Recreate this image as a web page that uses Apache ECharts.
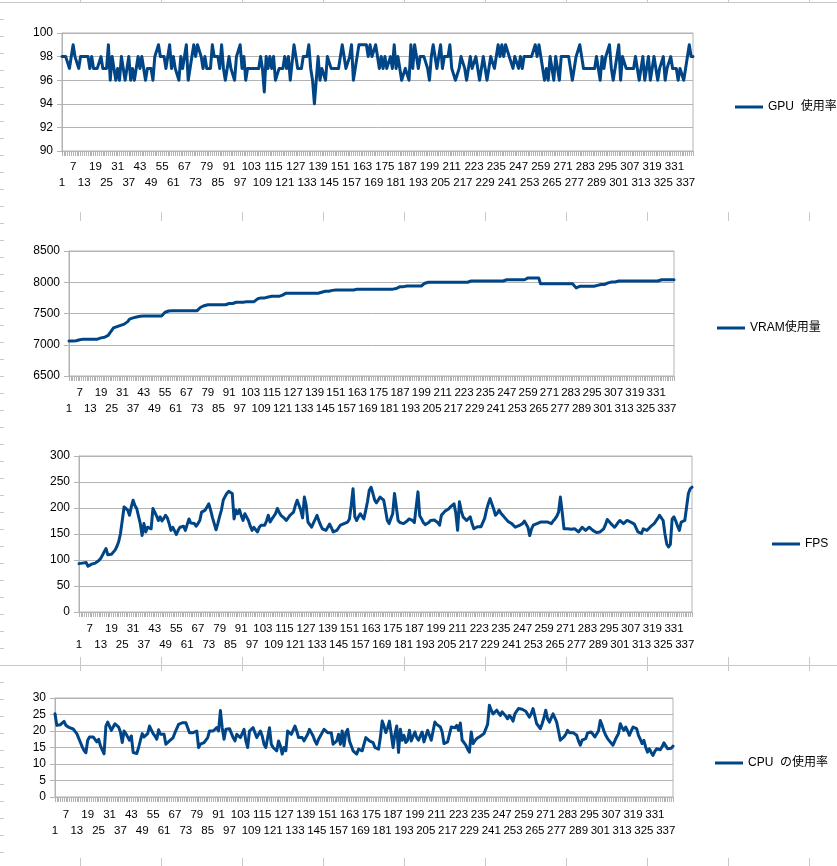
<!DOCTYPE html>
<html>
<head>
<meta charset="utf-8">
<title>GPU / VRAM / FPS / CPU</title>
<script src="https://cdn.jsdelivr.net/npm/echarts@6/dist/echarts.min.js"></script>
<style>
  html, body { margin: 0; padding: 0; background: #fff; }
  #sheet {
    position: relative; width: 837px; height: 866px; overflow: hidden;
    background-color: #fff;
    background-image:
      repeating-linear-gradient(to right, transparent 0 80px, #c8c8c8 80px 81px),
      repeating-linear-gradient(to bottom, transparent 0 2px, #c8c8c8 2px 3px, transparent 3px 17px);
  }
  .chart { position: absolute; left: 4px; width: 833px; background: #fff; }
</style>
</head>
<body>
<div id="sheet">
  <div id="gpu" class="chart" style="top: 3px; height: 209px;"></div>
  <div id="vram" class="chart" style="top: 221px; height: 209px;"></div>
  <div id="fps" class="chart" style="top: 430px; height: 227px;"></div>
  <div id="cpu" class="chart" style="top: 671px; height: 187px;"></div>
</div>
<script>
// 計測サンプル番号 1..341
const samples = [];
for (let i = 1; i <= 341; i++) samples.push(String(i));

// GPU 使用率 (%)
const gpuUsage = [
  98,98,98,98,97,98,99,98,98,97, 98,98,98,98,98,97,98,97,97,97,
  97,98,97,97,97,99,96,98,97,96, 97,96,98,98,96,97,98,96,97,96,
  96,98,97,98,98,96,97,97,97,96, 98,98,99,98,98,98,97,98,99,97,
  98,97,97,96,98,97,98,99,96,97, 98,99,98,99,99,98,97,98,97,97,
  97,99,98,98,98,97,99,97,96,97, 98,97,97,96,98,98,99,97,98,96,
  97,97,97,97,97,97,97,98,97,95, 98,97,98,97,98,96,96,97,97,97,
  98,97,98,96,96,99,98,97,97,97, 98,98,98,99,97,96,94,96,98,96,
  97,97,96,98,98,97,97,97,97,97, 97,99,98,97,97,98,99,96,97,97,
  99,99,99,99,99,98,99,98,98,99, 98,97,98,97,98,97,97,98,97,99,
  97,98,98,96,96,97,97,96,99,97, 99,98,97,98,98,98,98,97,96,98,
  99,98,97,98,99,97,98,98,98,99, 97,97,96,96,97,98,98,97,96,97,
  98,97,97,98,98,96,97,98,98,96, 97,98,98,97,98,99,98,99,98,99,
  99,98,98,97,98,98,97,98,97,98, 98,98,98,98,98,99,98,99,98,98,
  96,97,96,98,97,96,98,97,96,98, 98,98,98,98,97,96,97,98,98,99,
  98,97,97,97,97,97,97,97,98,97, 96,98,97,98,98,99,97,96,97,98,
  99,96,98,98,97,97,97,97,97,98, 97,96,97,98,96,97,98,96,97,98,
  97,96,97,97,98,96,97,97,98,97, 97,97,96,97,97,96,97,97,99,98,98
];

// VRAM 使用量 (MB)
const vramUsage = [
  7060,7060,7060,7060,7065,7070,7080,7090,7090,7090, 7090,7090,7090,7090,7090,7090,7090,7100,7110,7110,
  7120,7130,7150,7180,7230,7270,7285,7290,7300,7310, 7330,7330,7335,7370,7410,7420,7430,7440,7445,7450,
  7455,7460,7460,7460,7460,7460,7460,7460,7460,7460, 7460,7460,7460,7490,7520,7530,7540,7545,7545,7545,
  7545,7545,7545,7545,7545,7545,7545,7545,7545,7545, 7545,7545,7545,7570,7600,7615,7625,7630,7640,7640,
  7640,7640,7640,7640,7640,7640,7640,7640,7640,7640, 7660,7660,7660,7660,7680,7680,7680,7680,7680,7680,
  7690,7690,7690,7690,7690,7720,7735,7745,7750,7750, 7750,7750,7765,7775,7775,7775,7775,7775,7775,7790,
  7795,7810,7825,7825,7825,7825,7825,7825,7825,7825, 7825,7825,7825,7825,7825,7825,7825,7825,7825,7825,
  7825,7825,7840,7855,7855,7855,7855,7855,7870,7875, 7875,7875,7875,7875,7875,7875,7875,7875,7875,7875,
  7875,7885,7890,7890,7890,7890,7890,7890,7890,7890, 7890,7890,7890,7890,7890,7890,7890,7890,7890,7890,
  7890,7890,7890,7890,7900,7920,7930,7930,7930,7930, 7940,7940,7940,7940,7940,7940,7940,7940,7940,7940,
  7985,8000,8000,8000,8000,8000,8000,8000,8000,8000, 8000,8000,8000,8000,8000,8000,8000,8000,8000,8000,
  8000,8000,8000,8000,8000,8010,8020,8020,8020,8020, 8020,8020,8020,8020,8020,8020,8020,8020,8020,8020,
  8020,8020,8020,8020,8020,8020,8040,8040,8040,8040, 8040,8040,8040,8040,8040,8040,8040,8070,8070,8070,
  8070,8070,8070,8070,8070,7975,7975,7975,7975,7975, 7975,7975,7975,7975,7975,7975,7975,7975,7975,7975,
  7975,7975,7975,7975,7985,7910,7935,7935,7935,7935, 7935,7935,7935,7935,7935,7935,7935,7950,7960,7965,
  7965,7965,7965,7990,8005,8005,8005,8005,8005,8020, 8020,8020,8020,8020,8020,8020,8020,8020,8020,8020,
  8020,8020,8020,8020,8020,8020,8020,8020,8020,8020, 8020,8020,8040,8040,8040,8040,8040,8040,8040,8040,8040
];

// FPS
const fpsValues = [
  93,94,94,95,95,88,90,92,93,94, 95,99,103,109,116,122,110,109,111,113,
  119,126,135,151,176,202,205,196,186,202, 215,205,199,196,170,147,170,154,163,161,
  160,199,199,185,176,183,175,180,186,181, 170,157,163,156,149,157,163,164,165,157,
  168,179,171,170,170,165,170,176,192,194, 196,202,208,196,182,170,158,170,184,196,
  215,222,228,232,234,228,179,196,189,197, 185,176,189,186,176,165,157,163,158,154,
  163,167,166,167,175,186,173,179,184,189, 199,192,186,183,180,176,178,186,189,192,
  205,215,212,196,181,221,205,173,168,163, 171,178,186,176,167,160,158,157,163,169,
  162,154,155,157,162,167,168,170,171,173, 179,205,237,183,176,183,189,184,179,195,
  212,234,240,228,215,210,208,221,218,215, 196,176,170,180,189,228,229,176,172,170,
  170,171,175,179,176,176,172,175,231,185, 179,172,168,167,172,176,178,177,176,172,
  167,186,190,194,196,198,202,204,208,190, 157,212,195,183,180,176,179,183,170,160,
  162,164,163,164,163,180,196,208,218,215, 198,186,190,196,190,186,182,179,174,171,
  170,168,163,165,166,167,170,175,178,163, 147,160,167,166,170,172,173,176,173,175,
  173,171,170,175,179,184,192,221,192,160, 161,160,160,159,160,160,157,154,158,163,
  160,157,160,163,160,157,155,153,151,154, 157,160,168,178,174,170,167,163,167,172,
  176,173,170,173,176,174,173,171,169,167, 154,152,151,160,158,157,160,164,167,170,
  173,180,186,183,176,150,131,125,130,179, 183,175,165,157,173,175,176,179,228,237,240
];

// CPU の使用率 (%)
const cpuUsage = [
  25.2,21.7,21.7,21.9,22.2,22.9,21.7,21.2,21.0,21.0, 20.6,20.2,19.2,19.0,16.5,15.2,14.1,13.4,17.2,18.2,
  17.6,18.2,17.7,16.7,17.5,15.5,15.2,13.1,21.5,22.7, 22.4,20.2,20.4,22.2,22.2,21.2,19.7,16.5,20.0,19.2,
  18.2,17.2,18.5,13.5,13.1,13.2,15.0,17.2,19.2,18.2, 18.7,19.2,21.5,22.0,19.2,18.5,17.5,20.4,19.0,19.5,
  19.0,16.0,16.5,17.0,17.2,18.0,19.5,20.0,22.0,22.4, 22.5,22.2,22.5,22.0,19.5,20.0,19.5,20.0,20.0,15.0,
  16.0,16.5,16.5,16.5,18.0,20.0,20.2,20.0,19.5,21.0, 20.0,26.2,21.0,17.5,20.5,20.5,20.7,21.0,18.0,17.0,
  19.0,18.5,18.0,17.5,20.5,17.0,15.0,20.0,20.5,21.0, 21.5,18.0,19.0,20.0,18.5,16.0,15.0,14.5,21.0,16.0,
  15.0,15.5,14.0,17.0,15.5,13.0,15.0,14.0,20.0,19.5, 19.0,19.0,21.5,20.0,18.0,18.0,18.0,17.0,17.5,19.0,
  20.5,19.5,18.5,17.0,16.0,17.5,18.5,19.5,20.5,20.0, 19.5,19.5,19.5,16.0,15.5,17.0,19.0,16.0,20.0,15.5,
  19.5,20.5,17.0,16.5,14.0,13.5,13.0,14.5,14.5,14.0, 13.5,18.0,17.5,17.0,17.0,16.5,15.0,15.0,14.5,18.0,
  23.0,21.5,19.5,21.0,23.0,19.0,15.0,19.0,21.5,13.5, 20.5,17.2,18.7,16.5,17.2,20.2,17.0,16.7,19.7,18.0,
  17.2,18.5,19.7,16.7,18.5,20.2,18.7,17.2,20.0,22.7, 22.0,21.7,21.2,19.7,16.2,16.5,16.7,19.0,21.2,20.7,
  21.0,21.7,20.2,22.4,17.2,16.5,15.7,14.5,13.6,19.7, 16.2,17.0,17.7,18.0,18.4,19.0,19.2,18.7,22.0,27.8,
  26.3,25.2,25.8,26.3,25.5,24.7,25.8,25.2,24.5,23.7, 24.7,24.0,23.0,25.2,26.0,26.8,26.7,26.6,26.5,26.0,
  25.8,24.2,25.2,26.8,24.5,22.2,21.5,20.7,22.2,24.0, 26.3,23.7,22.7,24.0,25.2,24.0,22.7,20.0,17.2,17.2,
  18.2,19.0,20.2,19.5,19.2,19.5,19.7,18.7,17.0,15.7, 17.2,17.5,17.7,19.4,19.6,19.7,19.0,18.2,17.7,20.0,
  23.2,21.7,20.0,18.7,17.7,17.0,16.7,15.7,17.0,18.2, 19.2,22.2,21.0,20.2,21.2,20.0,18.7,20.0,21.2,21.0,
  20.7,18.7,17.5,16.2,17.2,15.0,13.6,14.6,13.5,12.6, 13.8,14.6,14.0,14.3,15.2,16.4,15.5,14.6,14.1,14.8,15.4
];

const FONT = "'Liberation Sans', Arial, 'Noto Sans CJK JP', sans-serif";
const LINE_COLOR = '#004586';
const GRAY = '#b3b3b3';

// ラベル行: 上段 7,19,31…  下段 1,13,25…
function labelAxis(row, margin, withLine) {
  return {
    type: 'category',
    data: samples,
    position: 'bottom',
    boundaryGap: false,
    axisLine: { show: withLine, lineStyle: { color: GRAY } },
    axisTick: { show: withLine, interval: 0, length: 5, lineStyle: { color: GRAY } },
    splitLine: { show: false },
    axisLabel: {
      interval: function (index) { return index % 12 === (row === 0 ? 6 : 0); },
      margin: margin,
      color: '#000',
      fontSize: 11.5,
      fontFamily: FONT
    }
  };
}

function drawChart(id, name, values, yMin, yMax, yStep, box) {
  const chart = echarts.init(document.getElementById(id), null, { renderer: 'canvas' });
  const option = {
    animation: false,
    backgroundColor: '#fff',
    textStyle: { fontFamily: FONT },
    grid: {
      left: box.left, top: box.top, right: box.right, height: box.height,
      show: true, borderColor: GRAY, borderWidth: 1,
      containLabel: false, outerBoundsMode: 'none'
    },
    legend: {
      data: [name],
      orient: 'vertical',
      left: box.legendLeft,
      top: box.legendY - 7,
      padding: 0,
      icon: 'rect',
      itemWidth: 28,
      itemHeight: 3,
      textStyle: { color: '#000', fontSize: 12, fontFamily: FONT, lineHeight: 14 }
    },
    xAxis: [
      labelAxis(0, box.labelMargin, true),
      labelAxis(1, box.labelMargin + 16, false)
    ],
    yAxis: {
      type: 'value',
      min: yMin,
      max: yMax,
      interval: yStep,
      axisLine: { show: true, lineStyle: { color: GRAY } },
      axisTick: { show: true, length: 5, lineStyle: { color: GRAY } },
      splitLine: { show: true, lineStyle: { color: GRAY, width: 1 } },
      axisLabel: {
        color: '#000', fontSize: 12, fontFamily: FONT, margin: 9,
        formatter: function (v) { return String(v); }
      }
    },
    series: [{
      name: name,
      type: 'line',
      xAxisIndex: 0,
      data: values,
      symbol: 'none',
      color: LINE_COLOR,
      lineStyle: { color: LINE_COLOR, width: 3, join: 'round', cap: 'round' },
      emphasis: { disabled: true }
    }]
  };
  chart.setOption(option);
  return chart;
}

drawChart('gpu', 'GPU  使用率', gpuUsage, 90, 100, 2,
  { left: 58, top: 30, right: 144, height: 118, legendLeft: 731, legendY: 104, labelMargin: 10 });
drawChart('vram', 'VRAM使用量', vramUsage, 6500, 8500, 500,
  { left: 65, top: 30, right: 163, height: 125, legendLeft: 713, legendY: 107, labelMargin: 11 });
drawChart('fps', 'FPS', fpsValues, 0, 300, 50,
  { left: 75, top: 26, right: 145, height: 156, legendLeft: 768, legendY: 114, labelMargin: 11 });
drawChart('cpu', 'CPU  の使用率', cpuUsage, 0, 30, 5,
  { left: 51, top: 27, right: 164, height: 99, legendLeft: 711, legendY: 92, labelMargin: 12 });
</script>
</body>
</html>
